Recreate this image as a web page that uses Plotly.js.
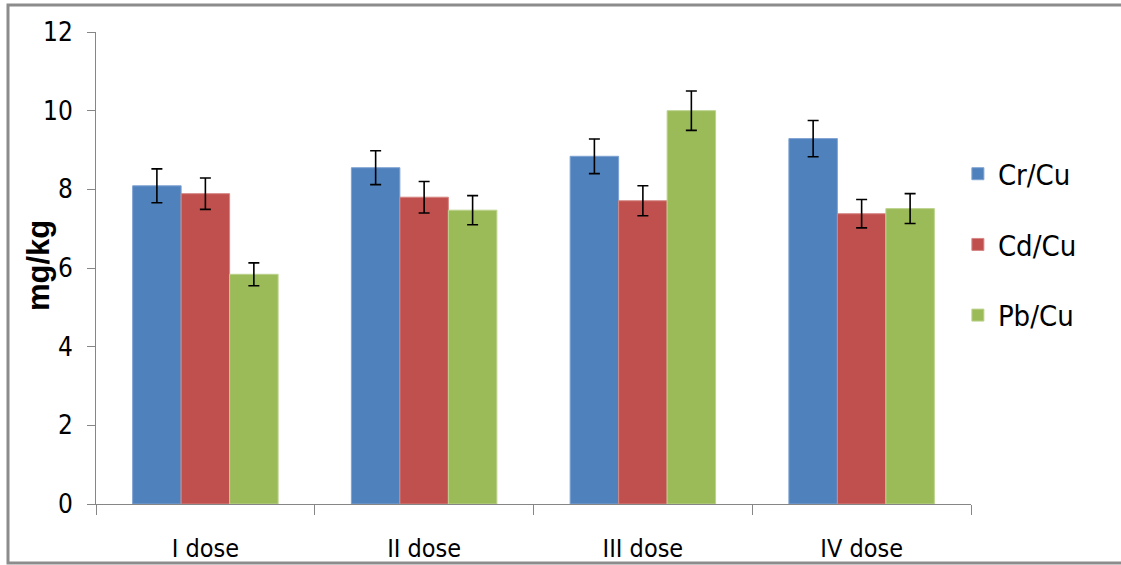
<!DOCTYPE html>
<html>
<head>
<meta charset="utf-8">
<script src="https://cdn.plot.ly/plotly-3.0.1.min.js"></script>
<style>html,body{margin:0;padding:0;background:#fff;}#chart{width:1121px;height:565px;}</style>
</head>
<body>
<div id="chart"></div>
<script>
const categories = ["I dose", "II dose", "III dose", "IV dose"];
const seriesNames = ["Cr/Cu", "Cd/Cu", "Pb/Cu"];
const crCu = [8.09, 8.55, 8.84, 9.29];
const cdCu = [7.89, 7.80, 7.71, 7.38];
const pbCu = [5.84, 7.47, 10.0, 7.51];
const crErr = [0.43, 0.43, 0.44, 0.46];
const cdErr = [0.40, 0.40, 0.38, 0.36];
const pbErr = [0.29, 0.37, 0.50, 0.38];
const yTicks = [0, 2, 4, 6, 8, 10, 12];
const yTitle = "mg/kg";
const colors = ["#4F81BD", "#C0504D", "#9BBB59"];
const lineColors = ["#7FA3D3", "#D58784", "#BCD38E"];

const FONT = "'Liberation Sans Narrow', 'DejaVu Sans Condensed', 'Arial Narrow', sans-serif";
const values = [crCu, cdCu, pbCu];
const errs = [crErr, cdErr, pbErr];

const traces = seriesNames.map((name, i) => ({
  type: "bar",
  name: name,
  x: categories,
  y: values[i],
  legendgroup: name,
  marker: {color: colors[i], line: {color: lineColors[i], width: 1}},
  error_y: {type: "data", array: errs[i], visible: true, color: "#000000", thickness: 1.6, width: 5.5}
}));

const layout = {
  width: 1121,
  height: 565,
  margin: {l: 96, r: 150, t: 32, b: 61},
  paper_bgcolor: "#ffffff",
  plot_bgcolor: "#ffffff",
  barmode: "group",
  bargap: 0.335,
  bargroupgap: 0,
  font: {family: FONT, color: "#000000"},
  showlegend: true,
  legend: {
    x: 0.985, xanchor: "left", y: 0.549, yanchor: "middle",
    font: {family: FONT, size: 29, color: "#000000"},
    tracegroupgap: 30,
    itemwidth: 30,
    bgcolor: "rgba(0,0,0,0)"
  },
  xaxis: {
    type: "category",
    range: [-0.5, 3.5],
    showline: true, linecolor: "#868686", linewidth: 1,
    ticks: "outside", tickson: "boundaries", ticklen: 10, tickcolor: "#868686", tickwidth: 1,
    showgrid: false, zeroline: false,
    tickfont: {family: FONT, size: 25, color: "#000000"},
    ticklabelstandoff: 22,
    fixedrange: true
  },
  yaxis: {
    range: [0, 12],
    tickvals: yTicks,
    ticktext: yTicks.map(String),
    showline: true, linecolor: "#868686", linewidth: 1,
    ticks: "outside", ticklen: 8, tickcolor: "#868686", tickwidth: 1,
    showgrid: false, zeroline: false,
    tickfont: {family: FONT, size: 26, color: "#000000"},
    ticklabelstandoff: 9,
    fixedrange: true
  },
  annotations: [{
    text: yTitle,
    xref: "paper", yref: "paper",
    x: (38 - 96) / 875, y: (504 - 266) / 472,
    xanchor: "center", yanchor: "middle",
    textangle: -90, showarrow: false,
    font: {family: "'Liberation Sans', Arial, sans-serif", size: 31, color: "#000000", weight: "bold"}
  }],
  shapes: [{
    type: "rect", xref: "paper", yref: "paper",
    x0: (8 - 96) / 875, x1: (1130 - 96) / 875,
    y0: (504 - 563) / 472, y1: (504 - 5) / 472,
    line: {color: "#8C8C8C", width: 3}, fillcolor: "rgba(0,0,0,0)", layer: "below"
  }]
};

Plotly.newPlot("chart", traces, layout, {displayModeBar: false, staticPlot: true});
</script>
</body>
</html>
